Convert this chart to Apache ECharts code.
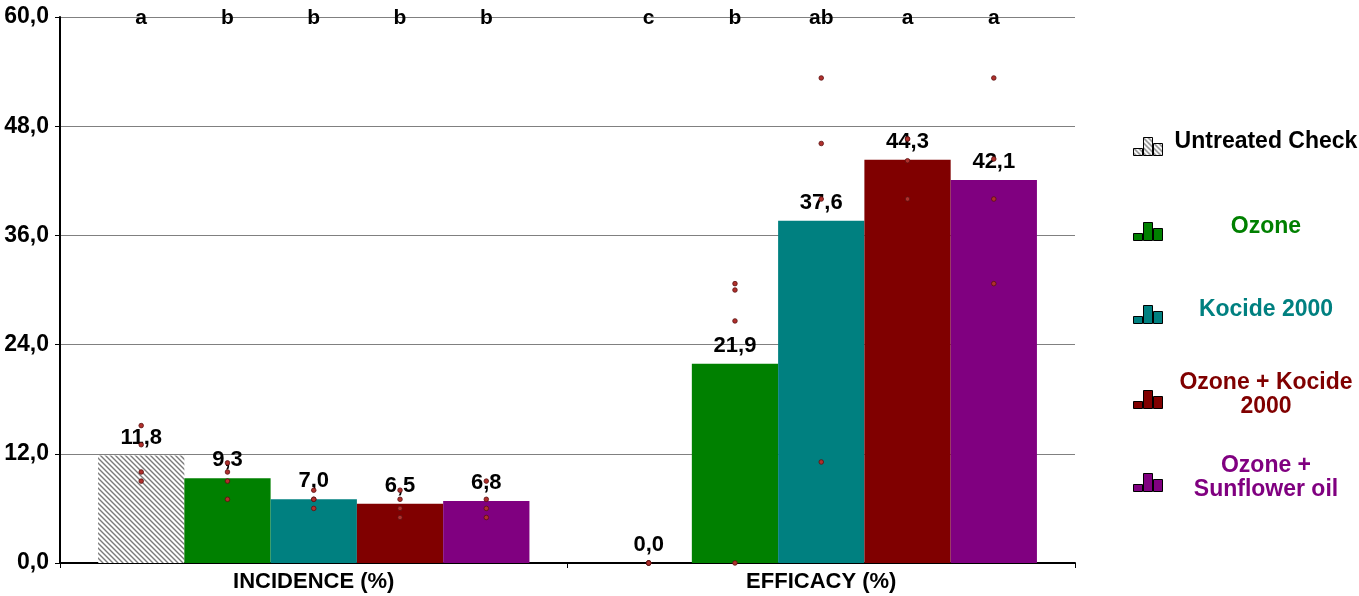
<!DOCTYPE html>
<html>
<head>
<meta charset="utf-8">
<script src="https://cdn.jsdelivr.net/npm/echarts@6/dist/echarts.min.js"></script>
<style>
html,body{margin:0;padding:0;background:#fff;}
#chart{width:1359px;height:596px;}
</style>
</head>
<body>
<div id="chart"></div>
<script>
// ---- data ----
const categories = ['INCIDENCE (%)', 'EFFICACY (%)'];
const treatments = ['Untreated Check', 'Ozone', 'Kocide 2000', 'Ozone + Kocide 2000', 'Ozone + Sunflower oil'];
const legendLabels = ['Untreated Check', 'Ozone', 'Kocide 2000', 'Ozone + Kocide\n2000', 'Ozone +\nSunflower oil'];
const incidenceMeans = [11.8, 9.3, 7.0, 6.5, 6.8];
const efficacyMeans = [0.0, 21.9, 37.6, 44.3, 42.1];
const incidenceLetters = ['a', 'b', 'b', 'b', 'b'];
const efficacyLetters = ['c', 'b', 'ab', 'a', 'a'];
const incidenceReps = [
  [15.1, 13.0, 10.0, 9.0],
  [11.0, 10.0, 9.0, 7.0],
  [8.0, 7.0, 7.0, 6.0],
  [8.0, 7.0, 6.0, 5.0],
  [9.0, 7.0, 6.0, 5.0]
];
const efficacyReps = [
  [0.0, 0.0, 0.0, 0.0],
  [30.7, 30.0, 26.6, 0.0],
  [53.3, 46.1, 40.0, 11.1],
  [46.6, 46.6, 44.2, 40.0],
  [53.3, 44.4, 40.0, 30.7]
];
const yMin = 0, yMax = 60, yInterval = 12;

// ---- styles ----
const FONT = '"Liberation Sans", Arial, sans-serif';
function hatch() {
  const c = document.createElement('canvas');
  c.width = 5; c.height = 5;
  const g = c.getContext('2d');
  g.fillStyle = '#ffffff'; g.fillRect(0, 0, 5, 5);
  g.strokeStyle = '#7a7a7a'; g.lineWidth = 1.4;
  g.beginPath();
  g.moveTo(-1, -1); g.lineTo(6, 6);
  g.moveTo(-1, 4); g.lineTo(1, 6);
  g.moveTo(4, -1); g.lineTo(6, 1);
  g.stroke();
  return { image: c, repeat: 'repeat' };
}
const colors = [hatch(), '#008000', '#008080', '#800000', '#800080'];
const textColors = ['#000000', '#008000', '#008080', '#800000', '#800080'];
const fmt = v => Number(v).toFixed(1).replace('.', ',');
const BAR_GAP = '0%', CAT_GAP = '15%';

const barSeries = treatments.map((name, j) => ({
  name: name,
  type: 'bar',
  barGap: BAR_GAP,
  barCategoryGap: CAT_GAP,
  data: [incidenceMeans[j], efficacyMeans[j]],
  itemStyle: { color: colors[j] },
  label: {
    show: true, position: 'top', distance: 7,
    formatter: p => fmt(p.value),
    color: '#000', fontFamily: FONT, fontWeight: 'bold', fontSize: 22
  },
  z: 2
}));

const repData = [];
[incidenceReps, efficacyReps].forEach((reps, ci) => {
  reps.forEach((arr, tj) => arr.forEach(v => repData.push([ci, tj, v])));
});
const letterData = [];
[incidenceLetters, efficacyLetters].forEach((ls, ci) => {
  ls.forEach((l, tj) => letterData.push([ci, tj, yMax]));
});
const lettersByCat = [incidenceLetters, efficacyLetters];

function barCenterX(api, cat, tj, v) {
  const p = api.coord([cat, v]);
  let off = 0;
  try {
    const lay = api.barLayout({ count: treatments.length, barGap: BAR_GAP, barCategoryGap: CAT_GAP });
    off = lay[tj].offsetCenter;
  } catch (e) {
    const bw = api.size([1, 0])[0];
    const w = bw * 0.85 / treatments.length;
    off = -bw * 0.425 + w * (tj + 0.5);
  }
  return [p[0] + off, p[1]];
}

const dotSeries = {
  type: 'custom',
  name: 'replicates',
  data: repData,
  encode: { x: 0, y: 2 },
  z: 5,
  silent: true,
  renderItem: (params, api) => {
    const pt = barCenterX(api, api.value(0), api.value(1), api.value(2));
    return {
      type: 'circle',
      shape: { cx: pt[0], cy: pt[1], r: 2.3 },
      style: { fill: '#b0302c', stroke: '#5a1010', lineWidth: 0.8 }
    };
  }
};

const letterSeries = {
  type: 'custom',
  name: 'letters',
  data: letterData,
  encode: { x: 0, y: 2 },
  z: 6,
  silent: true,
  renderItem: (params, api) => {
    const ci = api.value(0), tj = api.value(1);
    const pt = barCenterX(api, ci, tj, api.value(2));
    return {
      type: 'text',
      x: pt[0], y: pt[1] + 1,
      style: {
        text: lettersByCat[ci][tj],
        fill: '#000', font: 'bold 21px ' + FONT,
        align: 'center', verticalAlign: 'middle'
      }
    };
  }
};

const legendTops = [130, 215, 298, 371, 454];
const legends = treatments.map((name, j) => ({
  data: [name],
  orient: 'vertical',
  left: 1133,
  top: legendTops[j],
  padding: 0,
  itemWidth: 30,
  itemHeight: 18,
  itemGap: 0,
  icon: 'path://M0,18V11H9V18Z M10,18V0H19V18Z M20,18V6H29V18Z',
  itemStyle: { borderColor: '#000', borderWidth: 1 },
  selectedMode: false,
  formatter: n => legendLabels[treatments.indexOf(n)].split('\n').map(s => '{t|' + s + '}').join('\n'),
  textStyle: {
    padding: [0, 0, 10, 5],
    rich: {
      t: { width: 186, align: 'center', color: textColors[j], fontFamily: FONT, fontWeight: 'bold', fontSize: 23, lineHeight: 24 }
    }
  }
}));

const chart = echarts.init(document.getElementById('chart'), null, { renderer: 'canvas' });
chart.setOption({
  animation: false,
  backgroundColor: '#ffffff',
  grid: { left: 60, right: 284, top: 17, bottom: 33, containLabel: false },
  legend: legends,
  xAxis: {
    type: 'category',
    data: categories,
    axisLine: { show: true, lineStyle: { color: '#000', width: 2 } },
    axisTick: { show: true, length: 5, lineStyle: { color: '#000', width: 1 } },
    axisLabel: { color: '#000', fontFamily: FONT, fontWeight: 'bold', fontSize: 22, margin: 8 }
  },
  yAxis: {
    type: 'value',
    min: yMin, max: yMax, interval: yInterval,
    axisLine: { show: true, lineStyle: { color: '#000', width: 2 } },
    axisTick: { show: true, length: 5, lineStyle: { color: '#000', width: 1 } },
    axisLabel: { color: '#000', fontFamily: FONT, fontWeight: 'bold', fontSize: 23, margin: 11, formatter: v => fmt(v) },
    splitLine: { show: true, lineStyle: { color: '#808080', width: 1.2 } }
  },
  series: barSeries.concat([dotSeries, letterSeries])
});
</script>
</body>
</html>
